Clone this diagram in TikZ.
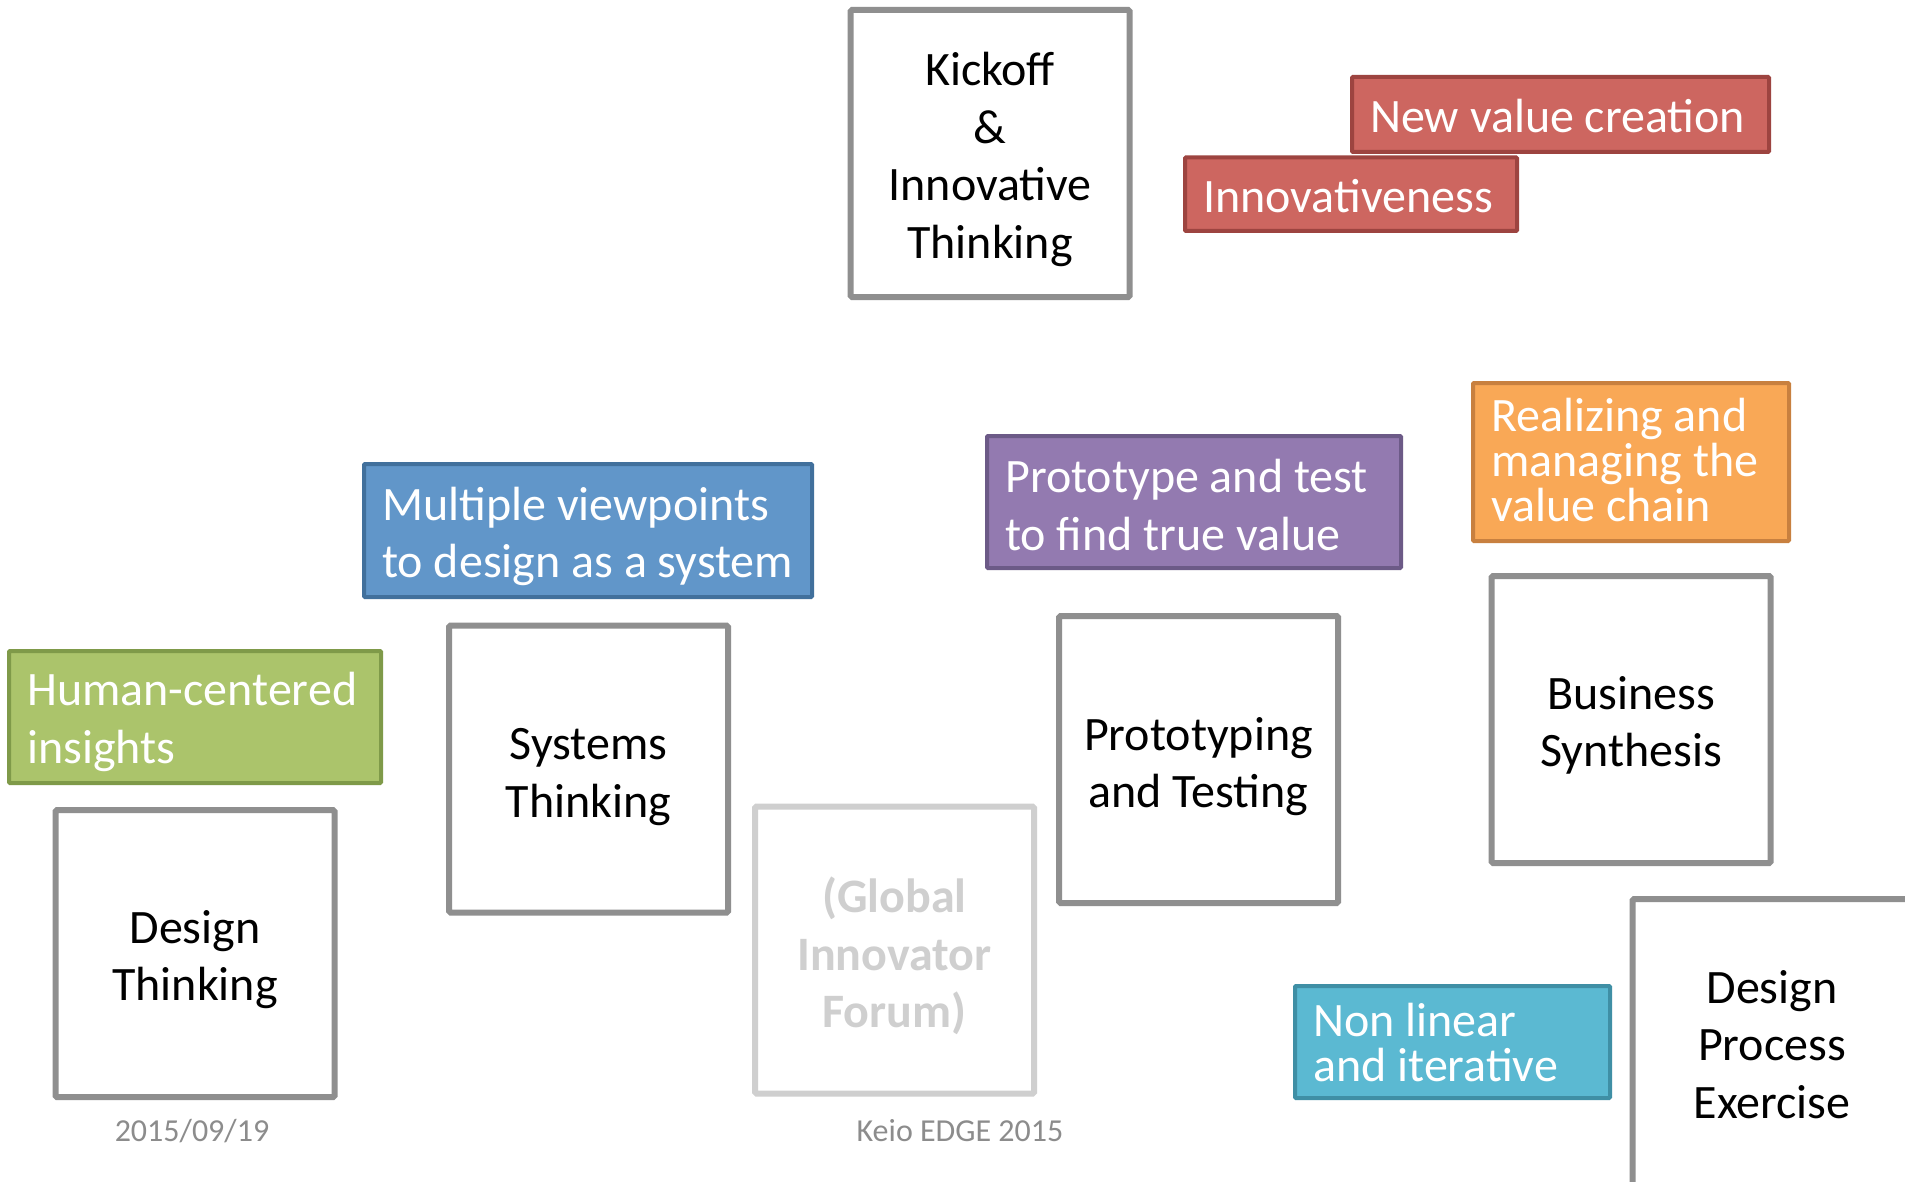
\documentclass[tikz,border=0pt]{standalone}
\usepackage{fontspec}
\setmainfont{Carlito}
\definecolor{boxgray}{HTML}{8F8F8F}
\definecolor{lightg}{HTML}{CFCFCF}
\definecolor{redf}{HTML}{CD6660}
\definecolor{redd}{HTML}{9D4440}
\definecolor{bluef}{HTML}{6196C9}
\definecolor{blued}{HTML}{41709C}
\definecolor{greenf}{HTML}{ABC46B}
\definecolor{greend}{HTML}{7F9A49}
\definecolor{purplef}{HTML}{937AB0}
\definecolor{purpled}{HTML}{6C5A87}
\definecolor{orangef}{HTML}{F9A856}
\definecolor{oranged}{HTML}{C8803F}
\definecolor{cyanf}{HTML}{5BB9D2}
\definecolor{cyand}{HTML}{3F8FA5}
\definecolor{foot}{HTML}{8C8C8C}
\newcommand\fbig{\fontsize{48}{57.5}\selectfont}
\newcommand\ftight{\fontsize{48}{45}\selectfont}
\begin{document}
\begin{tikzpicture}[x=1pt,y=-1pt,
  gbox/.style={draw=boxgray, line width=6pt, fill=white, minimum width=279pt,
    minimum height=287pt, inner sep=0pt, rounded corners=1.5pt},
  gtext/.style={align=center, font=\fbig, inner sep=0pt},
  tag/.style={line width=4pt, inner sep=0pt, rounded corners=1pt},
  tagtext/.style={anchor=west, align=left, font=\fbig, text=white, inner sep=0pt},
  footer/.style={text=foot, font=\fontsize{32}{38}\selectfont, inner sep=0pt}]
\useasboundingbox (0,0) rectangle (1905,1182);
\clip (0,0) rectangle (1905,1182);
\fill[white] (0,0) rectangle (1905,1182);

% gray boxes
\node[gbox] (kick) at (990,153.5) {};
\node[gtext] (kickT) at ([yshift=-6pt]kick.center) {Kickoff\\\&\\Innovative\\Thinking};
\node[gbox] (dt) at (195,953.5) {};
\node[gtext] (dtT) at ([yshift=-6pt]dt.center) {Design\\Thinking};
\node[gbox] (st) at (588.5,769) {};
\node[gtext] (stT) at ([yshift=-8pt]st.center) {Systems\\Thinking};
\node[gbox, draw=lightg] (gif) at (894.5,950) {};
\node[gtext, text=lightg, font=\fbig\bfseries] (gifT) at ([yshift=-6pt]gif.center) {(Global\\Innovator\\Forum)};
\node[gbox] (ptt) at (1198.5,759.5) {};
\node[gtext] (pttT) at ([yshift=-7pt]ptt.center) {Prototyping\\and Testing};
\node[gbox] (bs) at (1631,719.5) {};
\node[gtext] (bsT) at ([yshift=-6pt]bs.center) {Business\\Synthesis};
\node[gbox] (dpe) at (1772,1042.5) {};
\node[gtext] (dpeT) at ([yshift=-2pt]dpe.center) {Design\\Process\\Exercise};

% coloured tags
\node[tag, fill=redf, draw=redd, minimum width=417pt, minimum height=75pt] (nvc) at (1560.5,114.5) {};
\node[tagtext] (nvcT) at ([xshift=20pt,yshift=-2pt]nvc.west) {New value creation};
\node[tag, fill=redf, draw=redd, minimum width=332pt, minimum height=73.5pt] (inn) at (1351,194.25) {};
\node[tagtext] (innT) at ([xshift=20pt,yshift=-2pt]inn.west) {Innovativeness};
\node[tag, fill=bluef, draw=blued, minimum width=448pt, minimum height=133pt] (mv) at (588,530.5) {};
\node[tagtext] (mvT) at ([xshift=20pt,yshift=-6pt]mv.west) {Multiple viewpoints\\to design as a system};
\node[tag, fill=greenf, draw=greend, minimum width=372pt, minimum height=132pt] (hc) at (195,717) {};
\node[tagtext] (hcT) at ([xshift=20pt,yshift=-5pt]hc.west) {Human-centered\\insights};
\node[tag, fill=purplef, draw=purpled, minimum width=414pt, minimum height=132pt] (pt) at (1194,502) {};
\node[tagtext] (ptT) at ([xshift=20pt,yshift=-3pt]pt.west) {Prototype and test\\to find true value};
\node[tag, fill=orangef, draw=oranged, minimum width=316pt, minimum height=158pt] (rv) at (1631,462) {};
\node[tagtext, font=\ftight] (rvT) at ([xshift=20pt,yshift=2pt]rv.west) {Realizing and\\managing the\\value chain};
\node[tag, fill=cyanf, draw=cyand, minimum width=315pt, minimum height=112pt] (nl) at (1452.5,1042) {};
\node[tagtext, font=\ftight] (nlT) at ([xshift=20pt]nl.west) {Non linear\\and iterative};

% footers
\node[footer] (date) at (192,1131) {2015/09/19};
\node[footer] (keio) at (960,1131) {Keio EDGE 2015};
\end{tikzpicture}
\end{document}
